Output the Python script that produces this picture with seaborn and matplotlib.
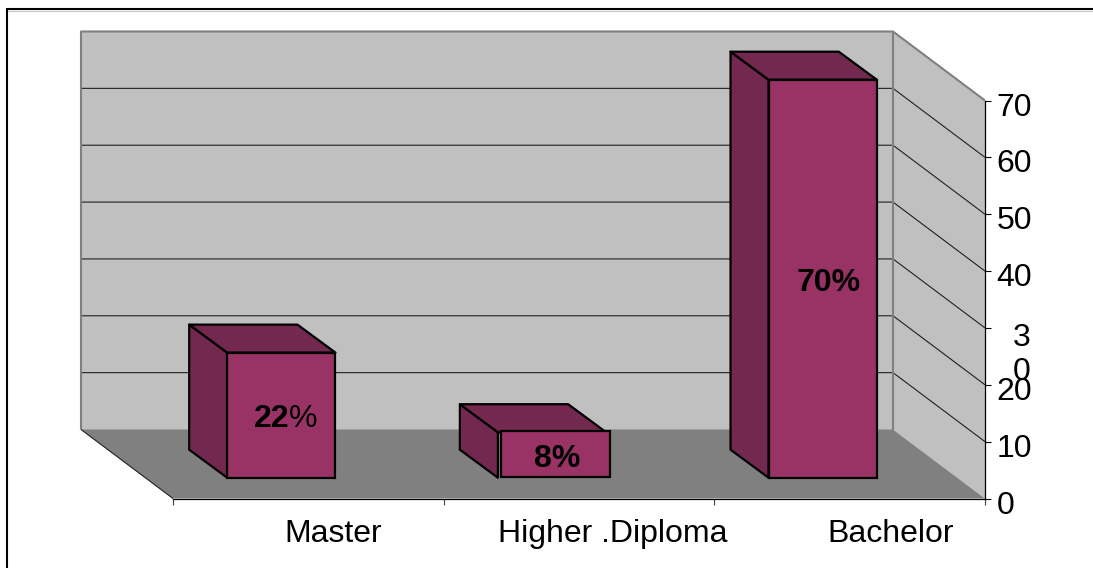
import matplotlib
matplotlib.use("Agg")
import matplotlib.pyplot as plt
import pandas as pd
import seaborn as sns
from matplotlib.lines import Line2D
from matplotlib.patches import Polygon
from matplotlib.transforms import Affine2D, IdentityTransform

categories = ["Master", "Higher .Diploma", "Bachelor"]
values = [22, 8, 70]
label_numbers = ["22", "8", "70"]
percent_bold = [False, True, True]
y_ticks = [0, 10, 20, 30, 40, 50, 60, 70]
y_tick_labels = ["0", "10", "20", "3\n0", "40", "50", "60", "70"]

W, H = 1093, 568
FONT = 23
WALL, FLOOR = "#C0C0C0", "#808080"
FRONT, SHADE = "#993366", "#732850"
WALL_D = (-92, 69)      # depth offset of the back wall, px
BAR_D = (-27, 20.8)     # offset of bar front faces from the front plane, px
BAR_DEPTH = (-38, 28)   # depth of each bar, px
FACE_NUDGE = [(0, 0), (3.5, 1), (0, 0)]  # front face drift as in the original
XLABEL_SHIFT = [25, 34, 41]  # px, category labels sit right of their slots
BAR_LABEL_SHIFT = [5, 5, 6]  # px, data labels sit right of the bar centres

sns.set_theme(style="white")
plt.rcParams["font.family"] = ["Liberation Sans", "DejaVu Sans"]

fig = plt.figure(figsize=(W / 100, H / 100), dpi=100, facecolor="white")
ax = fig.add_axes([173 / W, (H - 498.5) / H, (985 - 173) / W, (498.5 - 100.5) / H])
ax.patch.set_visible(False)

df = pd.DataFrame({"category": categories, "value": values})
sns.barplot(data=df, x="category", y="value", order=categories, color=FRONT,
            saturation=1, width=0.4, edgecolor="black", linewidth=1.6, ax=ax, zorder=5)
ax.set_xlim(-0.5, 2.5)
ax.set_ylim(0, 70)
ax.set_xlabel("")
ax.set_ylabel("")
fig.canvas.draw()


def proj(x, v, d=(0, 0)):
    px, py = ax.transData.transform((x, v))
    return (px + d[0], py + d[1])


# walls and floor, layered underneath the axes through a background axes
bg = fig.add_axes([0, 0, 1, 1], zorder=-1)
bg.set_axis_off()


def bpoly(points, **kw):
    p = Polygon(points, closed=True, transform=IdentityTransform(), clip_on=False, **kw)
    bg.add_patch(p)


def bline(points, **kw):
    xs, ys = zip(*points)
    bg.plot(xs, ys, transform=IdentityTransform(), clip_on=False, solid_capstyle="butt", **kw)


vmin, vmax = y_ticks[0], y_ticks[-1]
x0, x1 = -0.5, 2.5
bpoly([proj(x0, vmin, WALL_D), proj(x1, vmin, WALL_D), proj(x1, vmax, WALL_D), proj(x0, vmax, WALL_D)],
      facecolor=WALL, edgecolor="none")
bpoly([proj(x1, vmin, WALL_D), proj(x1, vmin), proj(x1, vmax), proj(x1, vmax, WALL_D)],
      facecolor=WALL, edgecolor="none")
bpoly([proj(x0, vmin), proj(x1, vmin), proj(x1, vmin, WALL_D), proj(x0, vmin, WALL_D)],
      facecolor=FLOOR, edgecolor="none")
for v in y_ticks[1:-1]:
    bline([proj(x0, v, WALL_D), proj(x1, v, WALL_D), proj(x1, v)], color="#202020", lw=0.8)
bline([proj(x0, vmin, WALL_D), proj(x0, vmax, WALL_D), proj(x1, vmax, WALL_D), proj(x1, vmax)], color=FLOOR, lw=1.5)
bline([proj(x1, vmax, WALL_D), proj(x1, vmin, WALL_D)], color=FLOOR, lw=1.5)
bline([proj(x0, vmin, WALL_D), proj(x0, vmin)], color="#202020", lw=0.8)
bg.set_xlim(0, 1)
bg.set_ylim(0, 1)

# bars: shift the seaborn faces into the depth, add side and top
for i, bar in enumerate(ax.containers[0]):
    xl, w, h = bar.get_x(), bar.get_width(), bar.get_height()
    fl = proj(xl, 0, BAR_D)
    tl = proj(xl, h, BAR_D)
    tr = proj(xl + w, h, BAR_D)
    d = BAR_DEPTH
    back = lambda p: (p[0] + d[0], p[1] + d[1])
    ax.add_patch(Polygon([fl, tl, back(tl), back(fl)], closed=True, transform=IdentityTransform(),
                         facecolor=SHADE, edgecolor="black", lw=1.6, clip_on=False, zorder=4, joinstyle="round"))
    ax.add_patch(Polygon([tl, tr, back(tr), back(tl)], closed=True, transform=IdentityTransform(),
                         facecolor=SHADE, edgecolor="black", lw=1.6, clip_on=False, zorder=4, joinstyle="round"))
    n = FACE_NUDGE[i]
    bar.set_transform(ax.transData + Affine2D().translate(BAR_D[0] + n[0], BAR_D[1] + n[1]))
    bar.set_clip_on(False)
    bar.set_joinstyle("miter")

    # data labels
    cx, cy = proj(xl + w / 2, h / 2, BAR_D)
    cx += BAR_LABEL_SHIFT[i]
    cy -= 4
    if percent_bold[i]:
        t = label_numbers[i] + "%"
        ax.text(cx, cy, t, transform=IdentityTransform(), ha="center", va="center",
                fontsize=FONT, fontweight="bold", color="black", zorder=8)
    else:
        ax.text(cx + 3, cy, label_numbers[i], transform=IdentityTransform(), ha="right", va="center",
                fontsize=FONT, fontweight="bold", color="black", zorder=8)
        ax.text(cx + 3, cy, "%", transform=IdentityTransform(), ha="left", va="center",
                fontsize=FONT, color="black", zorder=8)

# axes: right value axis, bottom category axis with ticks between categories
sns.despine(ax=ax, left=True, top=True, right=False, bottom=False)
for s in ("right", "bottom"):
    ax.spines[s].set_color("black")
    ax.spines[s].set_linewidth(0.9)
ax.yaxis.tick_right()
ax.set_yticks(y_ticks)
ax.set_yticklabels(y_tick_labels, fontsize=FONT, color="black", linespacing=1.15)
ax.tick_params(axis="y", which="major", right=True, length=4.6, width=0.8, color="black", pad=3.6)
ax.set_xticks([-0.5, 0.5, 1.5, 2.5])
ax.set_xticklabels([])
ax.set_xticks([0, 1, 2], minor=True)
ax.set_xticklabels(categories, minor=True, fontsize=FONT, color="black")
ax.tick_params(axis="x", which="major", bottom=True, length=4.6, width=0.8, color="#404040")
ax.tick_params(axis="x", which="minor", bottom=False, length=0, pad=14.7)

for lab, s in zip(ax.get_xticklabels(minor=True), XLABEL_SHIFT):
    lab.set_transform(lab.get_transform() + Affine2D().translate(s, 0))
for lab, tick in zip(ax.get_yticklabels(), y_ticks):
    dx, dy = 0, -3.5
    if "\n" in lab.get_text():
        dx, dy = 16, -22
        lab.set_multialignment("center")
    lab.set_transform(lab.get_transform() + Affine2D().translate(dx, dy))

# chart frame: only the top and left edges are drawn in the original
fig.add_artist(Line2D([7, W], [H - 11, H - 11], transform=IdentityTransform(), color="#C8C8C8", lw=0.8, zorder=19))
fig.add_artist(Line2D([7, W], [H - 9, H - 9], transform=IdentityTransform(), color="black", lw=1.5,
                      solid_capstyle="butt", zorder=20))
fig.add_artist(Line2D([7, 7], [H - 8, 0], transform=IdentityTransform(), color="black", lw=1.5,
                      solid_capstyle="butt", zorder=20))

fig.savefig("out.png", dpi=100, facecolor="white")
